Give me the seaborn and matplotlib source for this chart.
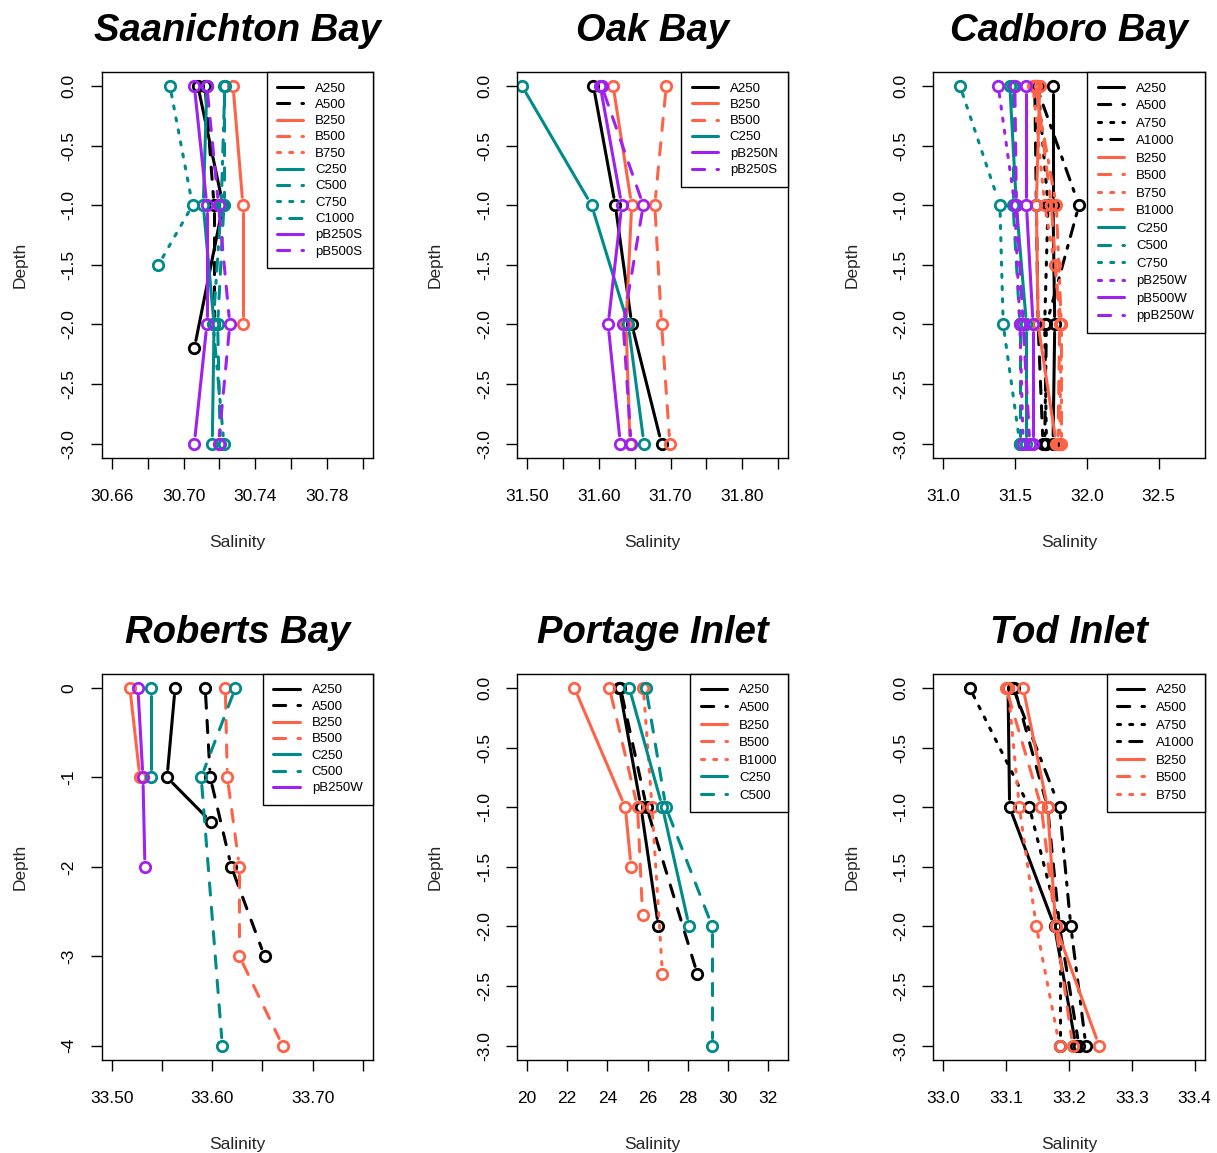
import numpy as np
import matplotlib
matplotlib.use("Agg")
import matplotlib.pyplot as plt
from matplotlib.lines import Line2D
import seaborn as sns

# ---------------- Saanichton Bay ----------------
saan_labels = ["A250", "A500", "B250", "B500", "B750", "C250", "C500", "C750", "C1000", "pB250S", "pB500S"]
saan_styles = ["solid", "dashed", "solid", "dashed", "dotted", "solid", "dashed", "dotted", "dotdash", "solid", "dashed"]
saan_depth = [
    [0, -1, -2.2],
    [0, -1, -2],
    [0, -1, -2],
    [],
    [],
    [0, -1, -2, -3],
    [0, -1, -2, -3],
    [0, -1, -1.5],
    [0, -1, -2, -3],
    [0, -1, -2, -3],
    [0, -1, -2, -3],
]
saan_salinity = [
    [30.708, 30.722, 30.706],
    [30.712, 30.717, 30.717],
    [30.7276, 30.7331, 30.7331],
    [],
    [],
    [30.713, 30.711, 30.717, 30.716],
    [30.7225, 30.7225, 30.719, 30.7205],
    [30.6924, 30.705, 30.686],
    [30.723, 30.721, 30.7165, 30.7225],
    [30.706, 30.713, 30.713, 30.706],
    [30.713, 30.7195, 30.7258, 30.7195],
]

# ---------------- Oak Bay ----------------
oak_labels = ["A250", "B250", "B500", "C250", "pB250N", "pB250S"]
oak_styles = ["solid", "solid", "dashed", "solid", "solid", "dashed"]
oak_depth = [[0, -1, -2, -3]] * 6
oak_salinity = [
    [31.5925, 31.623, 31.646, 31.6875],
    [31.620, 31.6458, 31.638, 31.6435],
    [31.694, 31.678, 31.6875, 31.699],
    [31.493, 31.590, 31.641, 31.663],
    [31.602, 31.632, 31.613, 31.630],
    [31.604, 31.662, 31.634, 31.645],
]

# ---------------- Cadboro Bay ----------------
cad_labels = ["A250", "A500", "A750", "A1000", "B250", "B500", "B750", "B1000",
              "C250", "C500", "C750", "pB250W", "pB500W", "ppB250W"]
cad_styles = ["solid", "dashed", "dotted", "dotdash", "solid", "dashed", "dotted", "dotdash",
              "solid", "dashed", "dotted", "dotted", "solid", "dashed"]
cad_depth = [
    [0, -1, -2, -3],
    [0, -1, -2, -3],
    [0, -1, -2, -3],
    [0, -1, -2, -3],
    [0, -1, -2, -3],
    [0, -1, -2, -3],
    [0, -1, -1.5, -2, -3],
    [0, -1, -2, -3],
    [0, -1, -2, -3],
    [0, -1, -2, -3],
    [0, -1, -2, -3],
    [0, -1, -2, -3],
    [0, -1, -2, -3],
    [0, -1, -2, -3],
]
cad_salinity = [
    [31.764, 31.764, 31.776, 31.764],
    [31.637, 31.648, 31.660, 31.694],
    [31.660, 31.729, 31.706, 31.718],
    [31.648, 31.945, 31.718, 31.706],
    [31.671, 31.648, 31.660, 31.787],
    [31.648, 31.752, 31.810, 31.799],
    [31.625, 31.706, 31.776, 31.822, 31.810],
    [31.637, 31.787, 31.822, 31.822],
    [31.463, 31.509, 31.579, 31.579],
    [31.486, 31.486, 31.533, 31.533],
    [31.116, 31.394, 31.417, 31.533],
    [31.382, 31.498, 31.533, 31.556],
    [31.579, 31.579, 31.625, 31.625],
    [31.498, 31.509, 31.556, 31.602],
]

# ---------------- Roberts Bay ----------------
rob_labels = ["A250", "A500", "B250", "B500", "C250", "C500", "pB250W"]
rob_styles = ["solid", "dashed", "solid", "dashed", "solid", "dashed", "solid"]
rob_depth = [
    [0, -1, -1.5],
    [0, -1, -2, -3],
    [0, -1],
    [0, -1, -2, -3, -4],
    [0, -1],
    [0, -1, -4],
    [0, -1, -2],
]
rob_salinity = [
    [33.563, 33.555, 33.599],
    [33.593, 33.598, 33.619, 33.652],
    [33.518, 33.528],
    [33.613, 33.615, 33.627, 33.627, 33.670],
    [33.539, 33.539],
    [33.623, 33.589, 33.610],
    [33.526, 33.531, 33.533],
]

# ---------------- Portage Inlet ----------------
por_labels = ["A250", "A500", "B250", "B500", "B1000", "C250", "C500"]
por_styles = ["solid", "dashed", "solid", "dashed", "dotted", "solid", "dashed"]
por_depth = [
    [0, -1, -2],
    [0, -1, -2.4],
    [0, -1, -1.5],
    [0, -1, -1.9],
    [0, -1, -2.4],
    [0, -1, -2],
    [0, -1, -2, -3],
]
por_salinity = [
    [24.60, 25.67, 26.54],
    [24.65, 25.95, 28.48],
    [22.36, 24.89, 25.18],
    [24.10, 25.50, 25.75],
    [25.79, 26.22, 26.74],
    [25.09, 26.74, 28.07],
    [25.92, 26.91, 29.22, 29.22],
]

# ---------------- Tod Inlet ----------------
tod_labels = ["A250", "A500", "A750", "A1000", "B250", "B500", "B750"]
tod_styles = ["solid", "dashed", "dotted", "dotdash", "solid", "dashed", "dotted"]
tod_depth = [[0, -1, -2, -3]] * 7
tod_salinity = [
    [33.103, 33.1055, 33.177, 33.211],
    [33.113, 33.166, 33.185, 33.216],
    [33.042, 33.137, 33.185, 33.185],
    [33.111, 33.185, 33.203, 33.227],
    [33.127, 33.166, 33.179, 33.248],
    [33.100, 33.156, 33.179, 33.206],
    [33.103, 33.121, 33.148, 33.185],
]

# ---------------- styling ----------------
sns.set_style("ticks")
plt.rcParams.update({
    "axes.unicode_minus": False,
    "axes.edgecolor": "black",
    "axes.linewidth": 1.0,
    "lines.solid_capstyle": "round",
    "lines.dash_capstyle": "round",
    "xtick.color": "black",
    "ytick.color": "black",
    "text.color": "black",
})
plt.rcParams["font.family"] = ["Liberation Sans", "DejaVu Sans"]

GROUP_COLORS = {"A": "black", "B": "#FF6347", "C": "#008B8B", "p": "#A020F0"}
LINESTYLES = {
    "solid": "-",
    "dashed": (0, (4, 4)),
    "dotted": (0, (1, 3)),
    "dotdash": (0, (1, 3, 4, 3)),
}
LW = 2.2
MS = 7.5
MEW = 2.0
GAP_PX = 8.0  # blank space left around each point, like type="b" in R


def series_color(name):
    return GROUP_COLORS.get(name[0], GROUP_COLORS["p"])


def r_limits(lo, hi):
    pad = 0.04 * (hi - lo)
    return lo - pad, hi + pad


def gapped_segments(ax, xs, ys, gap):
    """Split a polyline into segments that stop short of each vertex."""
    trans = ax.transData
    inv = trans.inverted()
    pts = trans.transform(np.column_stack([xs, ys]))
    segs = []
    for p0, p1 in zip(pts[:-1], pts[1:]):
        d = p1 - p0
        length = np.hypot(d[0], d[1])
        if length <= 2 * gap:
            continue
        u = d / length
        segs.append(inv.transform(np.vstack([p0 + u * gap, p1 - u * gap])))
    return segs


def draw_site(ax, title, labels, styles, depths, salinities,
              xrange_, xticks, xticklabels, yticks, yticklabels, leg_spacing):
    ax.set_xlim(*r_limits(*xrange_))
    ax.set_ylim(*r_limits(yticks[-1], yticks[0]))
    for name, sty, dep, sal in zip(labels, styles, depths, salinities):
        if len(sal) == 0:
            continue
        c = series_color(name)
        for seg in gapped_segments(ax, sal, dep, GAP_PX):
            sns.lineplot(x=seg[:, 0], y=seg[:, 1], sort=False, estimator=None, ax=ax,
                         color=c, linestyle=LINESTYLES[sty], linewidth=LW, legend=False)
        sns.lineplot(x=sal, y=dep, sort=False, estimator=None, ax=ax,
                     color=c, linestyle="none", marker="o", markersize=MS,
                     markerfacecolor="none", markeredgecolor=c,
                     markeredgewidth=MEW, legend=False)
    ax.set_xlim(*r_limits(*xrange_))
    ax.set_ylim(*r_limits(yticks[-1], yticks[0]))
    ax.set_xticks(xticks)
    ax.set_xticklabels(xticklabels)
    ax.set_yticks(yticks)
    ax.set_yticklabels(yticklabels, rotation=90, va="center")
    ax.tick_params(direction="out", length=8, width=1, labelsize=12.5)
    ax.tick_params(axis="x", pad=14)
    ax.tick_params(axis="y", pad=10)
    for sp in ax.spines.values():
        sp.set_visible(True)
        sp.set_linewidth(1.0)
    ax.set_xlabel("Salinity", fontsize=12.5, labelpad=23)
    ax.set_ylabel("Depth", fontsize=12.5, labelpad=24.5)
    ax.set_title(title, fontsize=27.5, fontweight="bold", fontstyle="italic", pad=22)

    handles = [Line2D([0], [0], color=series_color(n), linewidth=LW,
                      linestyle=LINESTYLES[s]) for n, s in zip(labels, styles)]
    leg = ax.legend(handles, labels, loc="upper right", borderaxespad=0,
                    fontsize=9.5, handlelength=2.0, handletextpad=0.9,
                    labelspacing=leg_spacing, borderpad=0.8, fancybox=False,
                    edgecolor="black", framealpha=1)
    leg.get_frame().set_linewidth(1.0)


fig = plt.figure(figsize=(12.17, 11.53), dpi=100)

col_left = [0.0836, 0.4248, 0.7669]
col_width = 0.2229
row_bottom = [0.6028, 0.0807]
row_height = 0.3350

axes = [[fig.add_axes([l, b, col_width, row_height]) for l in col_left] for b in row_bottom]

y3 = [0.0, -0.5, -1.0, -1.5, -2.0, -2.5, -3.0]
y3_lab = ["0.0", "-0.5", "-1.0", "-1.5", "-2.0", "-2.5", "-3.0"]

draw_site(axes[0][0], "Saanichton Bay", saan_labels, saan_styles, saan_depth, saan_salinity,
          (30.66, 30.80),
          [30.66, 30.68, 30.70, 30.72, 30.74, 30.76, 30.78, 30.80],
          ["30.66", "", "30.70", "", "30.74", "", "30.78", ""],
          y3, y3_lab, 0.31)

draw_site(axes[0][1], "Oak Bay", oak_labels, oak_styles, oak_depth, oak_salinity,
          (31.50, 31.85),
          [31.50, 31.55, 31.60, 31.65, 31.70, 31.75, 31.80, 31.85],
          ["31.50", "", "31.60", "", "31.70", "", "31.80", ""],
          y3, y3_lab, 0.31)

draw_site(axes[0][2], "Cadboro Bay", cad_labels, cad_styles, cad_depth, cad_salinity,
          (31.0, 32.75),
          [31.0, 31.5, 32.0, 32.5],
          ["31.0", "31.5", "32.0", "32.5"],
          y3, y3_lab, 0.40)

draw_site(axes[1][0], "Roberts Bay", rob_labels, rob_styles, rob_depth, rob_salinity,
          (33.50, 33.75),
          [33.50, 33.55, 33.60, 33.65, 33.70, 33.75],
          ["33.50", "", "33.60", "", "33.70", ""],
          [0, -1, -2, -3, -4], ["0", "-1", "-2", "-3", "-4"], 0.31)

draw_site(axes[1][1], "Portage Inlet", por_labels, por_styles, por_depth, por_salinity,
          (20, 32.5),
          [20, 22, 24, 26, 28, 30, 32],
          ["20", "22", "24", "26", "28", "30", "32"],
          y3, y3_lab, 0.40)

draw_site(axes[1][2], "Tod Inlet", tod_labels, tod_styles, tod_depth, tod_salinity,
          (33.0, 33.4),
          [33.0, 33.1, 33.2, 33.3, 33.4],
          ["33.0", "33.1", "33.2", "33.3", "33.4"],
          y3, y3_lab, 0.40)

fig.savefig("out.png", dpi=100)
